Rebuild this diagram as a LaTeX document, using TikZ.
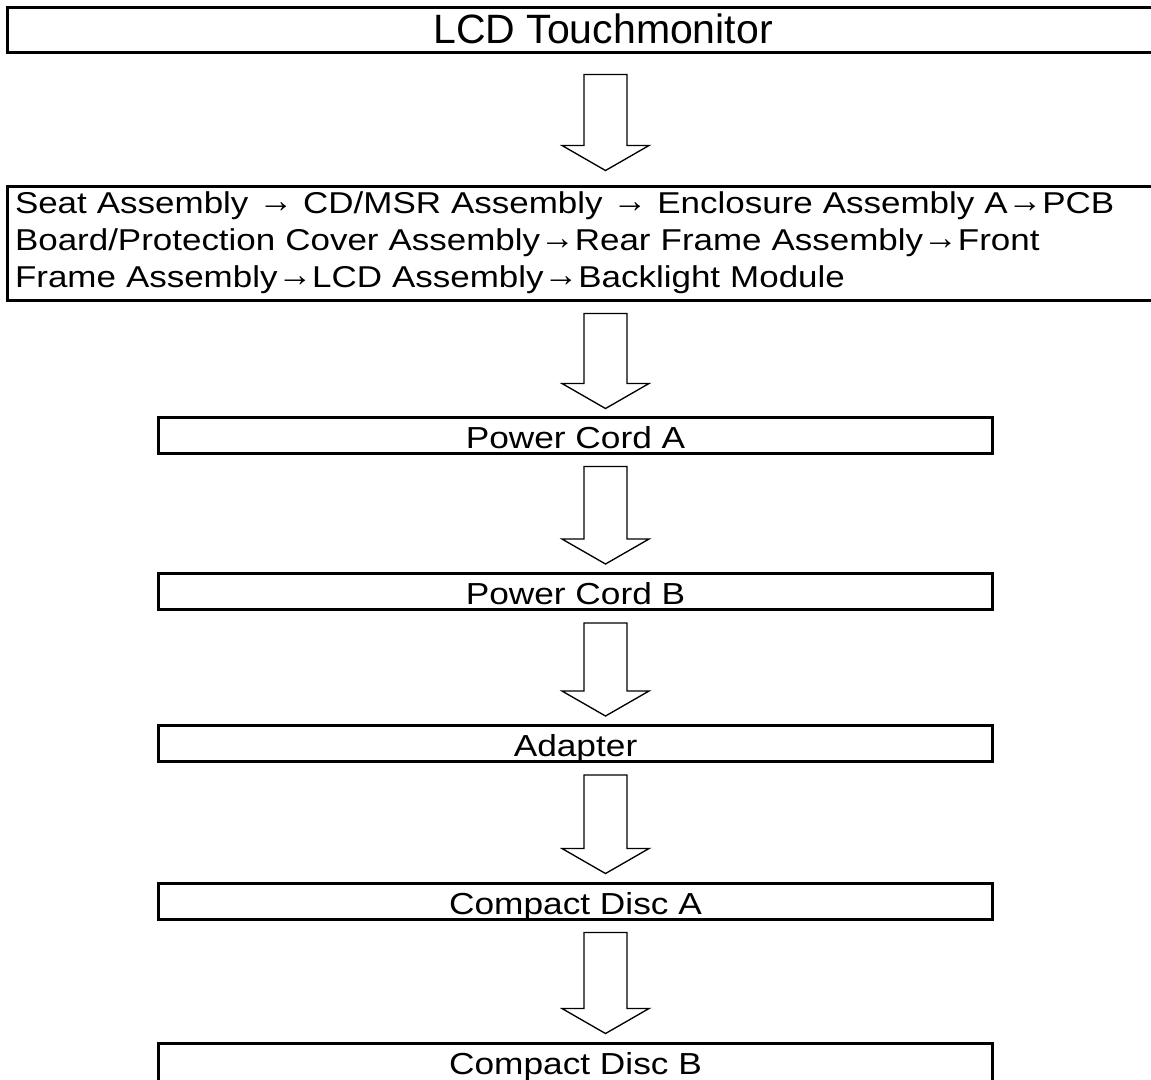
\documentclass[tikz,border=0pt]{standalone}
\usepackage{fontspec}
\setmainfont{Liberation Sans}
\newfontfamily\widesans[FakeStretch=1.16]{Liberation Sans}
\newfontfamily\arrowsans{Liberation Sans}
\usetikzlibrary{calc}

\newcommand{\asmto}{\raisebox{1pt}{\arrowsans\fontsize{26}{26}\selectfont →}}
% hollow arrow from node #1 down to node #2, gaps #3 (top) and #4 (tip)
\newcommand{\blockarrow}[4]{%
  \draw[hollowarrow] ($(#1.south -| axis)+(-21.5,#3)$)
    -- ($(#2.north -| axis)+(-21.5,-#4-25)$) -- ++(-22,0)
    -- ($(#2.north -| axis)+(0,-#4)$)
    -- ($(#2.north -| axis)+(43.5,-#4-25)$) -- ++(-22,0)
    -- ($(#1.south -| axis)+(21.5,#3)$) -- cycle ;}

\tikzset{
  bigbox/.style={draw,line width=2.25pt,inner sep=0pt,minimum width=894pt},
  partbox/.style={draw,line width=2.25pt,inner sep=0pt,minimum width=626pt,
    minimum height=27pt,text height=22pt,text depth=2.5pt,
    font=\widesans\fontsize{22.8}{27}\selectfont},
  hollowarrow/.style={line width=1pt,line join=miter,fill=white}
}

\begin{document}
\begin{tikzpicture}[x=0.75pt,y=-0.75pt]
         \fill[white] (0,0) rectangle (1151,1079) ;
         \useasboundingbox (0,0) rectangle (1151,1079) ;
         \coordinate (axis) at (605.5,0) ;
         \node[bigbox,minimum height=33.75pt,text height=27pt,text depth=6.75pt,
           font=\fontsize{30.75}{32}\selectfont] (title) at (603,29.5) {LCD Touchmonitor} ;
         \node[bigbox,minimum height=85.5pt,text width=882pt,inner xsep=6pt,align=left,
           font=\widesans\fontsize{22.6}{27.75}\selectfont] (steps) at (603,243)
           {Seat Assembly \asmto{} CD/MSR Assembly \asmto{} Enclosure Assembly A\asmto PCB\\
            Board/Protection Cover Assembly\asmto Rear Frame Assembly\asmto Front\\
            Frame Assembly\asmto LCD Assembly\asmto Backlight Module} ;
         \node[partbox] (cordA) at (575.5,435) {Power Cord A} ;
         \node[partbox] (cordB) at (575.5,591.5) {Power Cord B} ;
         \node[partbox] (adapter) at (575.5,743.5) {Adapter} ;
         \node[partbox] (discA) at (575.5,901) {Compact Disc A} ;
         \node[partbox,minimum height=31.5pt,text depth=7pt] (discB) at (575.5,1064) {Compact Disc B} ;
         \blockarrow{title}{steps}{21}{14}
         \blockarrow{steps}{cordA}{12}{7}
         \blockarrow{cordA}{cordB}{12}{8}
         \blockarrow{cordB}{adapter}{12}{8}
         \blockarrow{adapter}{discA}{12}{8}
         \blockarrow{discA}{discB}{12}{8}
      \end{tikzpicture}
\end{document}
